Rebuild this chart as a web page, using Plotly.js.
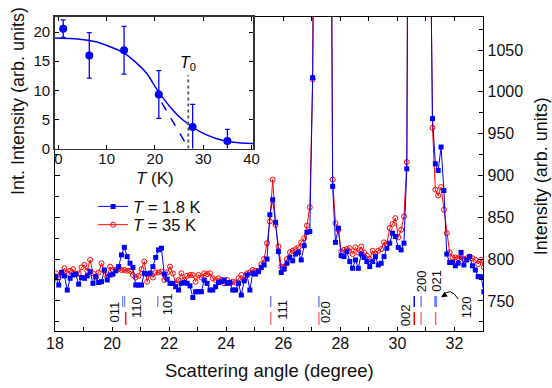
<!DOCTYPE html>
<html><head><meta charset="utf-8">
<script src="https://cdn.plot.ly/plotly-3.0.1.min.js"></script>
<style>html,body{margin:0;padding:0;background:#fff}#chart{width:552px;height:388px}</style>
</head><body><div id="chart"></div>
<script>
// ---- main scan data ----
const angle = [17.93,18.03,18.13,18.23,18.33,18.43,18.53,18.63,18.73,18.83,18.93,19.03,19.13,19.23,19.33,19.43,19.53,19.63,19.73,19.83,19.93,
20.03,20.13,20.23,20.33,20.43,20.53,20.63,20.73,20.83,20.93,21.03,21.13,21.23,21.33,21.43,21.53,21.63,21.73,21.83,21.93,
22.03,22.13,22.23,22.33,22.43,22.53,22.63,22.73,22.83,22.93,23.03,23.13,23.23,23.33,23.43,23.53,23.63,23.73,23.83,23.93,
24.03,24.13,24.23,24.33,24.43,24.53,24.63,24.73,24.83,24.93,25.03,25.13,25.23,25.33,25.43,25.53,25.63,25.73,25.83,25.93,
26.03,26.13,26.23,26.33,26.43,26.53,26.63,26.73,26.83,26.93,27.03,27.13,27.23,27.33,27.43,27.53,27.63,27.73,27.83,27.93,
28.03,28.13,28.23,28.33,28.43,28.53,28.63,28.73,28.83,28.93,29.03,29.13,29.23,29.33,29.43,29.53,29.63,29.73,29.83,29.93,
30.03,30.13,30.23,30.33,30.43,30.53,30.63,30.73,30.83,30.93,31.03,31.13,31.23,31.33,31.43,31.53,31.63,31.73,31.83,31.93,
32.03,32.13,32.23,32.33,32.43,32.53,32.63,32.73,32.83,32.93,33.03];
const intensity18K = [775,779,769,784,780,763,777,781,782,770,778,777,780,785,771,779,772,773,787,775,781,
782,786,791,805,814,803,795,790,769,769,769,783,782,783,791,802,811,813,782,776,
771,771,767,763,771,772,771,768,754,761,761,761,775,771,763,763,767,772,773,775,
771,772,763,763,771,757,774,781,763,783,782,785,790,793,800,853,871,844,809,784,
788,795,802,798,806,808,799,816,832,833,1017,1380,3000,4500,4000,3000,1560,887,820,837,
804,803,809,797,789,799,789,806,802,797,791,797,803,793,795,803,813,819,831,827,
814,811,819,908,1500,3000,6000,5000,5000,6000,3000,1270,968,914,906,934,882,806,796,796,
792,795,808,793,799,803,792,787,779,779,761];
const intensity35K = [780,783,778,784,789,783,786,788,782,783,790,793,786,799,783,778,784,795,786,779,791,
787,787,788,787,787,786,786,781,778,780,788,797,773,783,778,784,784,785,775,784,
791,783,771,775,783,775,780,781,781,773,781,778,783,782,783,777,775,777,775,771,
775,771,773,772,777,781,775,783,784,787,786,786,794,800,819,845,895,841,815,791,
791,800,808,810,812,814,820,825,840,862,1015,1390,3000,4500,4000,3000,1620,895,843,835,
809,811,812,813,806,814,808,815,808,804,800,810,806,810,812,820,818,837,842,849,
826,835,851,916,1500,3000,6000,5000,5000,6000,3000,1290,957,883,876,886,859,831,808,802,
802,801,803,800,801,803,801,799,794,799,790];
const seriesNames = ['<i>T</i> = 1.8 K', '<i>T</i> = 35 K'];

// ---- inset data ----
const insetT = [1.0, 6.4, 13.6, 20.8, 27.8, 35.0];
const insetI = [20.6, 16.0, 16.9, 9.3, 3.7, 1.3];
const insetErr = [1.5, 3.9, 4.1, 4.1, 3.9, 2.0];
const fitT = [-0.7, 2.5, 5.2, 8.0, 10.7, 13.2, 15.5, 18.3, 20.3, 23.1, 25.8, 29.3, 32.8, 36.2, 40.3];
const fitI = [19.0, 18.9, 18.7, 18.3, 17.5, 16.6, 15.2, 12.9, 10.3, 7.2, 4.9, 2.9, 1.7, 1.1, 0.86];
const extrapT = [21.4, 26.9];
const extrapI = [7.9, 0.1];
const T0 = 26.9;
const T0top = 12.6;

// ---- reflections ----
const blueRefl = [20.37, 20.44, 21.60, 25.56, 27.25, 30.59, 30.83, 31.34];
const redRefl = [20.48, 25.56, 27.25, 30.59, 30.83, 31.34];
const hklLabels = ['011','110','101','111','020','002','200','021','120'];

// ---- placement / styles ----
const hklPos = [[20.10,737.3],[20.86,742.1],[21.97,746.3],[25.95,739.1],[27.46,736.7],[30.27,733.1],[30.85,773.2],[31.38,773.8],[32.43,742.1]];
const blueStyle = ['rgba(70,90,255,0.75)','rgba(70,90,255,0.75)','rgba(70,90,255,0.75)','rgba(70,90,255,0.75)','rgba(70,90,255,0.75)','#0000ff','rgba(70,90,255,0.75)','rgba(70,90,255,0.75)'];
const blueW = [1.3,1.3,1.3,1.5,1.5,1.5,1.5,3];
const redStyle = ['#ff2020','rgba(255,60,60,0.7)','rgba(255,60,60,0.7)','#ff0000','rgba(255,60,60,0.7)','rgba(255,60,60,0.8)'];

const FONT = 'Liberation Sans, Arial, sans-serif';
const BLUE = '#0000ff', RED = '#ff0000';

const traces = [
  {x: angle, y: intensity35K, name: seriesNames[1], type: 'scatter', mode: 'lines+markers', legend: 'legend2',
   line: {color: RED, width: 1}, marker: {symbol: 'circle-open', size: 5, color: RED, line: {width: 1, color: RED}}},
  {x: angle, y: intensity18K, name: seriesNames[0], type: 'scatter', mode: 'lines+markers', legend: 'legend',
   line: {color: BLUE, width: 1}, marker: {symbol: 'square', size: 5, color: BLUE}},
  {x: fitT, y: fitI, xaxis: 'x2', yaxis: 'y2', mode: 'lines', showlegend: false,
   line: {color: BLUE, width: 1.5, shape: 'spline', smoothing: 0.8}},
  {x: extrapT, y: extrapI, xaxis: 'x2', yaxis: 'y2', mode: 'lines', showlegend: false,
   line: {color: BLUE, width: 1.5, dash: 'dash'}},
  {x: [T0, T0], y: [0, T0top], xaxis: 'x2', yaxis: 'y2', mode: 'lines', showlegend: false,
   line: {color: '#555', width: 1.8, dash: 'dot'}},
  {x: insetT, y: insetI, xaxis: 'x2', yaxis: 'y2', mode: 'markers', showlegend: false,
   marker: {color: BLUE, size: 8},
   error_y: {type: 'data', array: insetErr, color: BLUE, thickness: 1.3, width: 2.5}}
];

const shapes = [];
blueRefl.forEach((x, i) => shapes.push({type: 'line', xref: 'x', yref: 'y', x0: x, x1: x, y0: 742.7, y1: 755.9,
  line: {color: blueStyle[i], width: blueW[i]}}));
redRefl.forEach((x, i) => shapes.push({type: 'line', xref: 'x', yref: 'y', x0: x, x1: x, y0: 721.2, y1: 736.7,
  line: {color: redStyle[i], width: 1.5}}));
shapes.push({type: 'path', xref: 'x', yref: 'y', path: 'M 32.13 752.3 Q 31.85 768 31.57 755.5',
  line: {color: '#000', width: 1}});

const C = {xanchor: 'center', yanchor: 'middle', showarrow: false};
const annotations = [];
hklLabels.forEach((t, i) => annotations.push(Object.assign({text: t, x: hklPos[i][0], y: hklPos[i][1], xref: 'x', yref: 'y',
  textangle: -90, font: {family: FONT, size: 13, color: '#111'}}, C)));
annotations.push({x: 31.53, y: 754.5, xref: 'x', yref: 'y', ax: 5, ay: -3, showarrow: true,
  arrowhead: 2, arrowsize: 1.2, arrowwidth: 1, arrowcolor: '#000', text: ''});
annotations.push(Object.assign({text: '<i>T</i><sub>0</sub>', x: T0, y: 14.6, xref: 'x2', yref: 'y2',
  font: {family: FONT, size: 16, color: '#000'}}, C));
annotations.push(Object.assign({text: 'Scattering angle (degree)', x: 0.5, y: -0.127, xref: 'paper', yref: 'paper',
  font: {family: FONT, size: 18.5, color: '#111'}}, C));
annotations.push(Object.assign({text: 'Int. Intensity (arb. units)', x: -0.0864, y: 0.7325, xref: 'paper', yref: 'paper',
  textangle: -90, font: {family: FONT, size: 18, color: '#111'}}, C));
annotations.push(Object.assign({text: 'Intensity (arb. units)', x: 1.136, y: 0.4936, xref: 'paper', yref: 'paper',
  textangle: -90, font: {family: FONT, size: 18, color: '#111'}}, C));
annotations.push(Object.assign({text: '<i>T</i> (K)', x: 0.2336, y: 0.487, xref: 'paper', yref: 'paper',
  font: {family: FONT, size: 17, color: '#111'}}, C));

const axBase = {showgrid: false, zeroline: false, showline: true, linecolor: '#000', mirror: 'allticks',
  ticks: 'inside', tickcolor: '#000', tickfont: {family: FONT, size: 16, color: '#111'}};
const legBase = {x: 0.089, xanchor: 'left', yanchor: 'middle', bgcolor: 'rgba(0,0,0,0)',
  font: {family: FONT, size: 16.5, color: '#111'}};

const layout = {
  width: 552, height: 388,
  margin: {l: 55, r: 69, t: 17, b: 57},
  paper_bgcolor: '#fff', plot_bgcolor: '#fff',
  font: {family: FONT},
  showlegend: true,
  legend: Object.assign({}, legBase, {y: 0.396}),
  legend2: Object.assign({}, legBase, {y: 0.3376}),
  xaxis: Object.assign({}, axBase, {range: [18, 33], dtick: 2, tick0: 18, ticklen: 4, linewidth: 1.3,
    ticklabelstandoff: -3,
    minor: {dtick: 1, ticks: 'inside', ticklen: 4, tickcolor: '#000'}}),
  yaxis: Object.assign({}, axBase, {side: 'right', range: [714, 1089.5], dtick: 50, tick0: 750, ticklen: 5, linewidth: 1.3,
    minor: {dtick: 25, ticks: 'inside', ticklen: 4, tickcolor: '#000'}}),
  xaxis2: Object.assign({}, axBase, {domain: [0, 0.4626], anchor: 'y2', range: [-0.7, 40.3], dtick: 10, tick0: 0,
    ticklen: 4, linewidth: 1.8, linecolor: '#333', ticklabelstandoff: -4, tickfont: {family: FONT, size: 15, color: '#111'}}),
  yaxis2: Object.assign({}, axBase, {domain: [0.581, 1], anchor: 'x2', range: [0, 22.6], dtick: 5, tick0: 0,
    ticklen: 4, linewidth: 1.8, linecolor: '#333', tickfont: {family: FONT, size: 15, color: '#111'}}),
  shapes: shapes,
  annotations: annotations
};

Plotly.newPlot('chart', traces, layout, {displayModeBar: false, staticPlot: true});
</script></body></html>
